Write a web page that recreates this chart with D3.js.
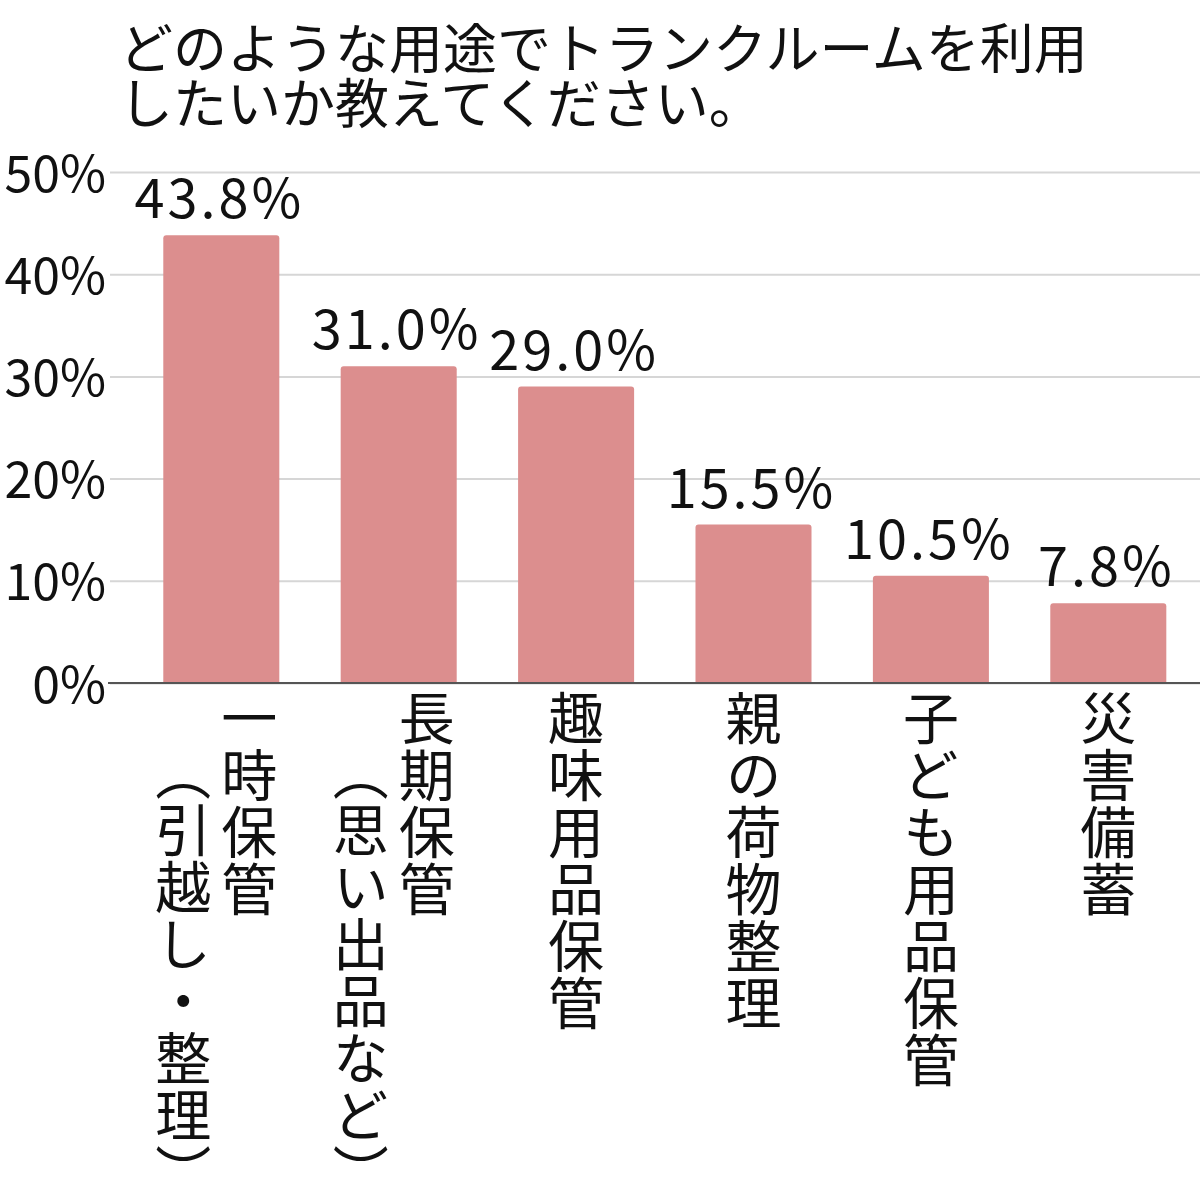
<!DOCTYPE html>
<html><head><meta charset="utf-8">
<script src="https://cdn.jsdelivr.net/npm/d3@7"></script>
<style>
body{margin:0;background:#fff}
text{font-family:"Noto Sans CJK JP","Noto Sans",sans-serif;fill:#111}
</style>
</head><body><svg id="c" width="1200" height="1200"></svg>
<script>
const titleLines = ["どのような用途でトランクルームを利用", "したいか教えてください。"];
const categories = ["一時保管", "長期保管", "趣味用品保管", "親の荷物整理", "子ども用品保管", "災害備蓄"];
const subLabels = ["（引越し・整理）", "（思い出品など）", "", "", "", ""];
const values = [43.8, 31.0, 29.0, 15.5, 10.5, 7.8];
const valueLabels = ["43.8%", "31.0%", "29.0%", "15.5%", "10.5%", "7.8%"];
const yTicks = [0, 10, 20, 30, 40, 50];

const svg = d3.select("#c");
const W = 1200;
const y = d3.scaleLinear().domain([0, 50]).range([683, 172]);
const x = d3.scaleBand().domain(categories).range([132.6, 1197]).paddingInner(0.346).paddingOuter(0.173);

// title
svg.append("g").selectAll("text").data(titleLines).join("text")
  .attr("x", 119).attr("y", (d, i) => 69 + i * 55)
  .style("font-size", "54px")
  .text(d => d);

// grid + y axis
const yAxis = d3.axisLeft(y).tickValues(yTicks).tickFormat(d => d + "%").tickSize(-(W - 110)).tickPadding(6);
const gy = svg.append("g").attr("transform", "translate(110,0)").call(yAxis);
gy.select(".domain").remove();
gy.selectAll(".tick line").attr("stroke", "#d6d6d6").attr("stroke-width", 2);
gy.selectAll(".tick text").attr("fill", "#111").style("font-size", "50px").attr("dy", "0.38em").attr("x", -4)
  .style("font-family", '"Noto Sans CJK JP","Noto Sans",sans-serif');

// bars
const bw = x.bandwidth();
svg.append("g").selectAll("path").data(values).join("path")
  .attr("fill", "#dc8e8e")
  .attr("d", (d, i) => {
    const x0 = x(categories[i]), y0 = y(d), y1 = y(0), r = 3;
    return `M${x0},${y1}V${y0 + r}Q${x0},${y0} ${x0 + r},${y0}H${x0 + bw - r}Q${x0 + bw},${y0} ${x0 + bw},${y0 + r}V${y1}Z`;
  });

// baseline
svg.append("line").attr("x1", 108).attr("x2", W).attr("y1", y(0)).attr("y2", y(0))
  .attr("stroke", "#555").attr("stroke-width", 2);

// value labels
svg.append("g").selectAll("text").data(values).join("text")
  .attr("x", (d, i) => x(categories[i]) + bw / 2 - 2)
  .attr("y", d => y(d) - 17)
  .attr("text-anchor", "middle")
  .style("font-size", "54px").style("letter-spacing", "3px")
  .text((d, i) => valueLabels[i]);

// category labels (vertical)
const gl = svg.append("g");
categories.forEach((c, i) => {
  const cx = x(c) + bw / 2;
  const two = subLabels[i] !== "";
  gl.append("text")
    .attr("x", two ? cx + 28 : cx)
    .attr("y", 690)
    .style("writing-mode", "vertical-rl")
    .style("font-size", "56px").style("letter-spacing", "1px")
    .text(c);
  if (two) {
    gl.append("text")
      .attr("x", cx - 38)
      .attr("y", 745)
      .style("writing-mode", "vertical-rl")
      .style("font-size", "56px").style("letter-spacing", "1px")
      .text(subLabels[i]);
  }
});
</script>
</body></html>
